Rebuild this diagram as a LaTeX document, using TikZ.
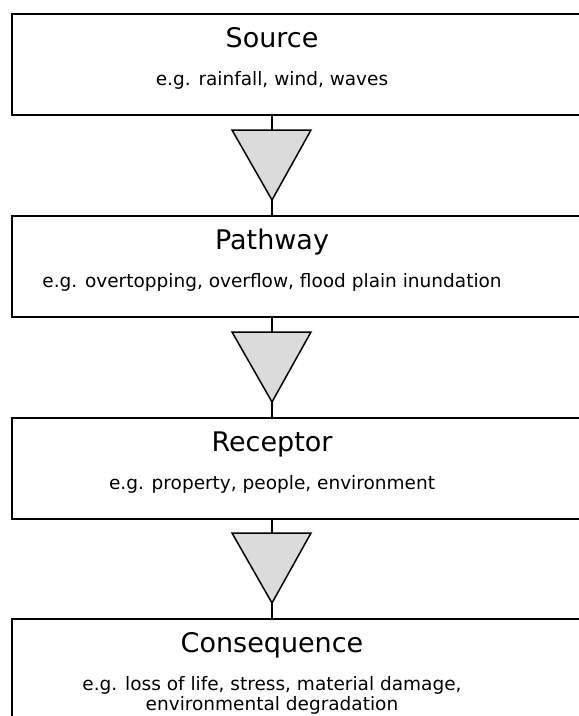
\documentclass[tikz,border=0pt]{standalone}
\usepackage{fontspec}
\setmainfont{DejaVu Sans}
\begin{document}
\begin{tikzpicture}[x=1pt,y=-1pt,
  stagebox/.style={draw, line width=2.6pt, minimum width=578pt, minimum height=101pt,
                   inner sep=0pt, outer sep=0pt, anchor=north west},
  stagetitle/.style={anchor=base, inner sep=0pt, font=\fontsize{27}{32}\selectfont},
  stagedetail/.style={anchor=base, inner sep=0pt, align=center, font=\fontsize{18.5}{20}\selectfont},
  flowtri/.style={draw, line width=1.5pt, fill=black!14, line join=miter},
  stem/.style={line width=2.6pt}]
\useasboundingbox (0,0) rectangle (579,716);
\clip (0,0) rectangle (579,716);

% stage boxes (they run past the right edge)
\node[stagebox] (src)  at (12,14)  {};
\node[stagebox] (path) at (12,216) {};
\node[stagebox] (rec)  at (12,418) {};
\node[stagebox] (cons) at (12,619) {};

% titles and examples
\node[stagetitle]  (srcT)  at (272,47)  {Source};
\node[stagedetail] (srcD)  at (272,85)  {e.g. rainfall, wind, waves};
\node[stagetitle]  (pathT) at (272,249) {Pathway};
\node[stagedetail] (pathD) at (272,287) {e.g. overtopping, overflow, flood plain inundation};
\node[stagetitle]  (recT)  at (272,451) {Receptor};
\node[stagedetail] (recD)  at (272,489) {e.g. property, people, environment};
\node[stagetitle]  (consT) at (272,652) {Consequence};
% two-line example: the base anchor sits on the last line
\node[stagedetail] (consD) at (272,710) {e.g. loss of life, stress, material damage,\\environmental degradation};

% downward triangles between stages
\foreach \n/\t in {1/130, 2/332, 3/533}{
  \coordinate (tl\n) at (232,\t);
  \coordinate (tr\n) at (311,\t);
  \coordinate (tm\n) at (272,\t);
  \coordinate (ta\n) at (272,\t+70);
  \draw[flowtri] (tl\n) -- (tr\n) -- (ta\n) -- cycle;
}

% stems joining boxes and triangles
\draw[stem] (src.south -| tm1) -- (tm1);
\draw[stem] (ta1) -- (path.north -| ta1);
\draw[stem] (path.south -| tm2) -- (tm2);
\draw[stem] (ta2) -- (rec.north -| ta2);
\draw[stem] (rec.south -| tm3) -- (tm3);
\draw[stem] (ta3) -- (cons.north -| ta3);
\end{tikzpicture}
\end{document}
